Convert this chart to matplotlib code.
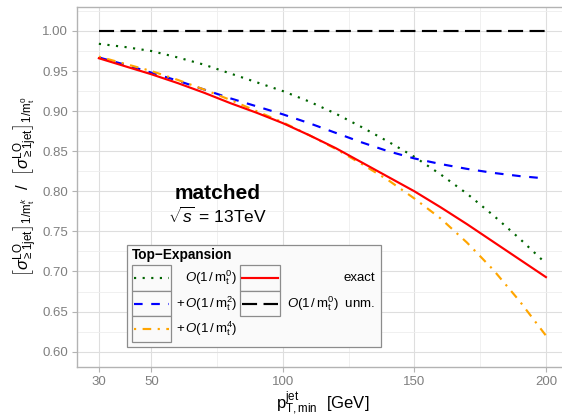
import matplotlib
matplotlib.use("Agg")
import matplotlib.pyplot as plt
from matplotlib.patches import Rectangle
from matplotlib.lines import Line2D

plt.rcParams['font.family'] = ['Liberation Sans', 'DejaVu Sans']
plt.rcParams['mathtext.fontset'] = 'custom'
plt.rcParams['mathtext.rm'] = 'Liberation Sans'
plt.rcParams['mathtext.it'] = 'Liberation Sans:italic'
plt.rcParams['mathtext.bf'] = 'Liberation Sans:bold'
plt.rcParams['mathtext.sf'] = 'Liberation Sans'

# ---- data ----
pt = [30, 40, 50, 60, 70, 80, 90, 100, 110, 120, 130, 140, 150, 160, 170, 180, 190, 200]
ratio_m0 = [0.984, 0.980, 0.975, 0.967, 0.958, 0.947, 0.936, 0.925, 0.912, 0.897,
            0.880, 0.862, 0.843, 0.821, 0.797, 0.770, 0.741, 0.710]
ratio_m2 = [0.967, 0.958, 0.948, 0.938, 0.927, 0.916, 0.906, 0.896, 0.885, 0.873,
            0.861, 0.850, 0.841, 0.834, 0.828, 0.823, 0.819, 0.816]
ratio_m4 = [0.968, 0.959, 0.950, 0.939, 0.927, 0.914, 0.900, 0.886, 0.870, 0.853,
            0.834, 0.814, 0.791, 0.766, 0.736, 0.702, 0.663, 0.620]
ratio_exact = [0.966, 0.956, 0.946, 0.935, 0.923, 0.910, 0.898, 0.885, 0.870, 0.854,
               0.836, 0.818, 0.800, 0.780, 0.759, 0.737, 0.715, 0.693]
ratio_unm = [1.0] * len(pt)

x_ticks = [30, 50, 100, 150, 200]
x_minor = [75, 125, 175]
y_ticks = [0.60, 0.65, 0.70, 0.75, 0.80, 0.85, 0.90, 0.95, 1.00]
y_minor = [0.625, 0.675, 0.725, 0.775, 0.825, 0.875, 0.925, 0.975, 1.025]

lab_m0 = r'$\mathit{O}(1\,/\,\mathrm{m}_\mathrm{t}^0)$'
lab_m2 = r'$+\,\mathit{O}(1\,/\,\mathrm{m}_\mathrm{t}^2)$'
lab_m4 = r'$+\,\mathit{O}(1\,/\,\mathrm{m}_\mathrm{t}^4)$'
lab_exact = 'exact'
lab_unm = r'$\mathit{O}(1\,/\,\mathrm{m}_\mathrm{t}^0)$  unm.'

W, H = 562, 418
fig = plt.figure(figsize=(W / 100, H / 100), dpi=100)
ax = fig.add_axes([76.5 / W, 1 - 367.3 / H, (568.3 - 76.5) / W, (367.3 - 6.7) / H])
ax.set_facecolor('white')

lw = 1.55
styles = [
    (ratio_m0, '#006400', (0, (1, 3)), lab_m0),
    (ratio_m2, '#0000FF', (0, (4, 4)), lab_m2),
    (ratio_m4, '#FFA500', (0, (1, 3, 4, 3)), lab_m4),
    (ratio_exact, '#FF0000', '-', lab_exact),
    (ratio_unm, '#000000', (0, (7, 3)), lab_unm),
]
for vals, col, ls, lab in styles:
    ax.plot(pt, vals, color=col, linestyle=ls, lw=lw, zorder=3)

ax.set_xlim(21.5, 208.5)
ax.set_ylim(0.5805, 1.0303)
ax.set_xticks(x_ticks)
ax.set_xticks(x_minor, minor=True)
ax.set_yticks(y_ticks)
ax.set_yticks(y_minor, minor=True)
ax.set_yticklabels([f'{v:.2f}' for v in y_ticks])
ax.grid(True, which='major', color='#DEDEDE', lw=0.8, zorder=0)
ax.grid(True, which='minor', color='#EEEEEE', lw=0.6, zorder=0)
ax.set_axisbelow(True)
for s in ax.spines.values():
    s.set_color('#B3B3B3')
    s.set_linewidth(1.0)
ax.tick_params(which='major', length=3.5, color='#B3B3B3', width=0.8,
               labelcolor='#7F7F7F', labelsize=9.5, pad=2.5)
ax.tick_params(which='minor', length=0)

ax.set_xlabel(r'$\mathrm{p}_{\mathrm{T,min}}^{\mathrm{jet}}\ \ [\mathrm{GeV}]$', fontsize=12, labelpad=1)
ax.set_ylabel(r'$\left[\sigma^{\mathrm{LO}}_{\geq 1\mathrm{jet}}\right]_{1/\mathrm{m}_\mathrm{t}^k}\ \ /\ \ '
              r'\left[\sigma^{\mathrm{LO}}_{\geq 1\mathrm{jet}}\right]_{1/\mathrm{m}_\mathrm{t}^0}$',
              fontsize=12, labelpad=2)

ax.text(75, 0.797, 'matched', fontsize=15, fontweight='bold', ha='center', va='center')
ax.text(75, 0.769, r'$\sqrt{s}\,=\,13\mathrm{TeV}$', fontsize=12.5, ha='center', va='center')

# ---- legend (custom inset, ggplot-like) ----
lx0, ly0, lw_, lh_ = 126, 244, 255, 103
lax = fig.add_axes([lx0 / W, 1 - (ly0 + lh_) / H, lw_ / W, lh_ / H])
lax.set_xlim(0, lw_)
lax.set_ylim(lh_, 0)
lax.axis('off')
lax.add_patch(Rectangle((0.5, 0.5), lw_ - 1, lh_ - 1, facecolor='#FAFAFA',
                        edgecolor='#8C8C8C', lw=0.9, clip_on=False))
lax.text(6, 10.5, 'Top\u2212Expansion', fontsize=9.8, fontweight='bold', ha='left', va='center')
rows = [(21, 46.7), (46.7, 72.3), (72.3, 97.7)]
cols = [(6, 45, 111), (114, 154, 249)]
entries = [(0, 0), (0, 1), (0, 2), (1, 0), (1, 1)]
for (vals, col, ls, lab), (c, r) in zip(styles, entries):
    kx0, kx1, tx = cols[c]
    ry0, ry1 = rows[r]
    lax.add_patch(Rectangle((kx0, ry0), kx1 - kx0, ry1 - ry0, facecolor='#FAFAFA',
                            edgecolor='#8C8C8C', lw=0.9, clip_on=False))
    ym = (ry0 + ry1) / 2
    lax.add_line(Line2D([kx0 + 2, kx1 - 2], [ym, ym], color=col, linestyle=ls, lw=lw))
    lax.text(tx, ym, lab, fontsize=9.5, ha='right', va='center')

fig.savefig('out.png', dpi=100)
